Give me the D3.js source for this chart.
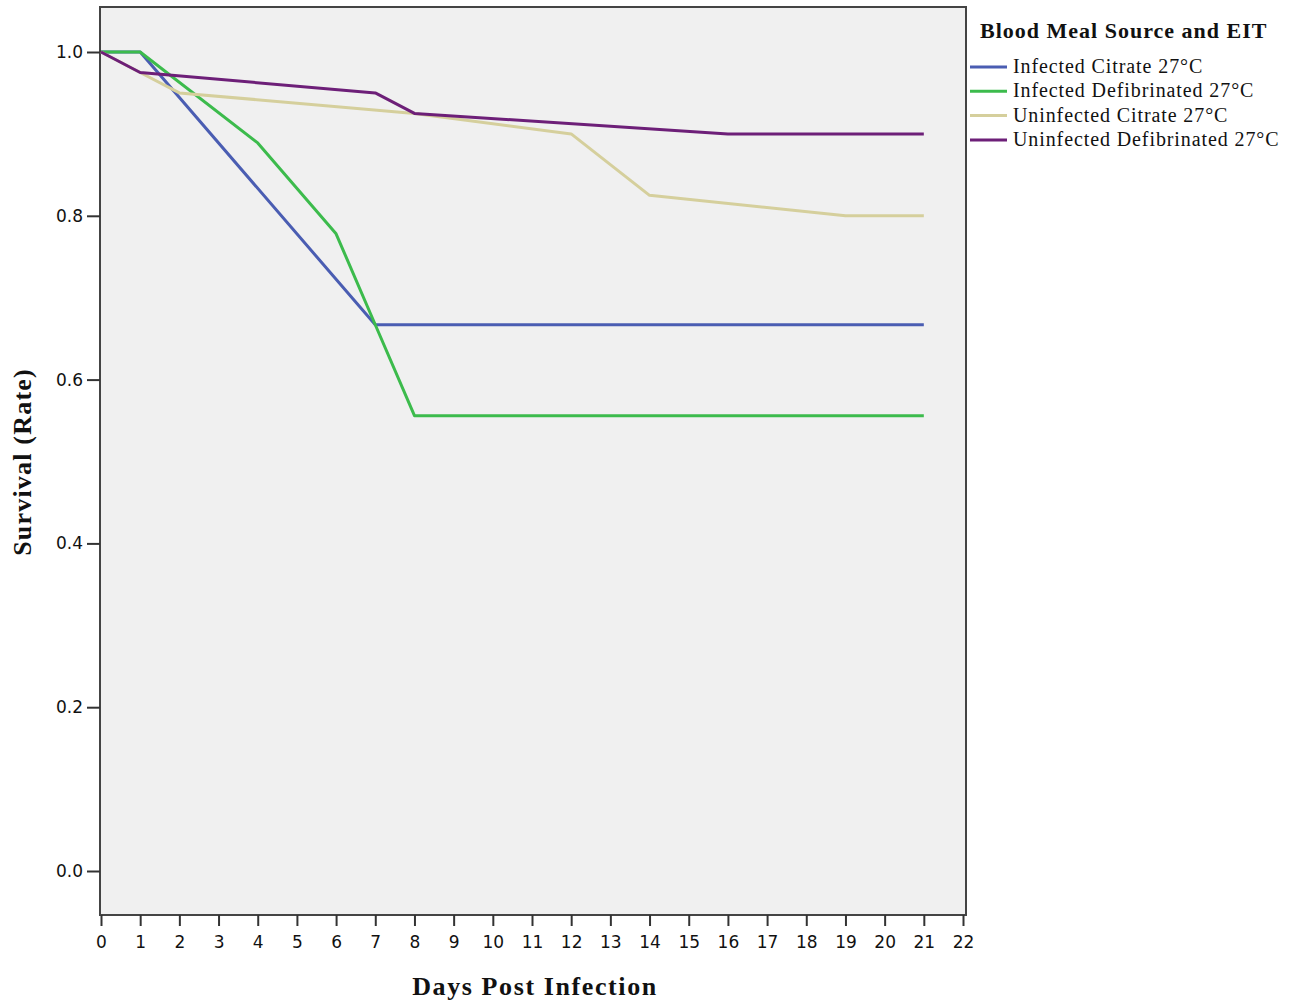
<!DOCTYPE html>
<html>
<head>
<meta charset="utf-8">
<script src="https://cdn.jsdelivr.net/npm/d3@7"></script>
<style>
  body { margin: 0; background: #fff; }
  svg text { fill: #111; }
</style>
</head>
<body>
<div id="chart"></div>
<script>
// Series data (days post infection, survival rate)
const seriesNames = [
  "Infected Citrate 27\u00B0C",
  "Infected Defibrinated 27\u00B0C",
  "Uninfected Citrate 27\u00B0C",
  "Uninfected Defibrinated 27\u00B0C"
];
const seriesColors = ["#4a5db2", "#3cbb4c", "#d5cf9c", "#6d1f78"];

const infectedCitrateDays = [0, 1, 7, 21];
const infectedCitrateRate = [1.0, 1.0, 0.667, 0.667];

const infectedDefibDays = [0, 1, 4, 6, 7, 8, 21];
const infectedDefibRate = [1.0, 1.0, 0.889, 0.778, 0.667, 0.556, 0.556];

const uninfectedCitrateDays = [0, 1, 2, 8, 12, 14, 19, 21];
const uninfectedCitrateRate = [1.0, 0.975, 0.95, 0.925, 0.9, 0.825, 0.8, 0.8];

const uninfectedDefibDays = [0, 1, 7, 8, 16, 21];
const uninfectedDefibRate = [1.0, 0.975, 0.95, 0.925, 0.9, 0.9];

const xTicks = d3.range(0, 23);
const yTicks = [0.0, 0.2, 0.4, 0.6, 0.8, 1.0];

const allSeries = [
  [infectedCitrateDays, infectedCitrateRate],
  [infectedDefibDays, infectedDefibRate],
  [uninfectedCitrateDays, uninfectedCitrateRate],
  [uninfectedDefibDays, uninfectedDefibRate]
].map(([days, rate], i) => ({
  name: seriesNames[i],
  color: seriesColors[i],
  points: days.map((d, j) => ({ day: d, rate: rate[j] }))
}));

const width = 1300, height = 1005;
const svg = d3.select("#chart").append("svg")
  .attr("width", width)
  .attr("height", height);

const serif = "'Liberation Serif', 'Times New Roman', serif";

// Plot frame
const frame = { left: 100, right: 966, top: 7, bottom: 915 };

const x = d3.scaleLinear().domain([0, 22]).range([101, 963]);
const y = d3.scaleLinear().domain([0, 1]).range([871, 52]);

svg.append("rect")
  .attr("x", frame.left)
  .attr("y", frame.top)
  .attr("width", frame.right - frame.left)
  .attr("height", frame.bottom - frame.top)
  .attr("fill", "#f0f0f0")
  .attr("stroke", "#444")
  .attr("stroke-width", 2);

// Y axis
const yAxis = svg.append("g")
  .attr("transform", `translate(${frame.left},0)`)
  .call(d3.axisLeft(y).tickValues(yTicks).tickFormat(d3.format(".1f")).tickSize(13).tickPadding(4));
yAxis.select(".domain").remove();
yAxis.selectAll("line").attr("stroke", "#333").attr("stroke-width", 2);
yAxis.selectAll("text")
  .style("font-family", "'DejaVu Sans', sans-serif")
  .style("font-size", "17px")
  .attr("fill", "#222");

// X axis
const xAxis = svg.append("g")
  .attr("transform", `translate(0,${frame.bottom})`)
  .call(d3.axisBottom(x).tickValues(xTicks).tickFormat(d3.format("d")).tickSize(11).tickPadding(10));
xAxis.select(".domain").remove();
xAxis.selectAll("line").attr("stroke", "#333").attr("stroke-width", 2);
xAxis.selectAll("text")
  .style("font-family", "'DejaVu Sans', sans-serif")
  .style("font-size", "17px")
  .attr("fill", "#222");

// Lines
const line = d3.line()
  .x(d => x(d.day))
  .y(d => y(d.rate));

svg.append("g")
  .selectAll("path")
  .data(allSeries)
  .join("path")
  .attr("d", d => line(d.points))
  .attr("fill", "none")
  .attr("stroke", d => d.color)
  .attr("stroke-width", 3)
  .attr("stroke-linejoin", "round");

// Axis titles
svg.append("text")
  .attr("transform", `translate(31,462) rotate(-90)`)
  .attr("text-anchor", "middle")
  .style("font-family", serif)
  .style("font-weight", "bold")
  .style("font-size", "26px")
  .style("letter-spacing", "1.2px")
  .text("Survival (Rate)");

svg.append("text")
  .attr("x", 535)
  .attr("y", 995)
  .attr("text-anchor", "middle")
  .style("font-family", serif)
  .style("font-weight", "bold")
  .style("font-size", "26px")
  .style("letter-spacing", "1.6px")
  .text("Days Post Infection");

// Legend
const legend = svg.append("g").attr("transform", "translate(970,0)");
legend.append("text")
  .attr("x", 10)
  .attr("y", 38)
  .style("font-family", serif)
  .style("font-weight", "bold")
  .style("font-size", "22px")
  .style("letter-spacing", "1px")
  .text("Blood Meal Source and EIT");

const items = legend.selectAll("g.item")
  .data(allSeries)
  .join("g")
  .attr("class", "item")
  .attr("transform", (d, i) => `translate(0,${67 + i * 24.3})`);
items.append("line")
  .attr("x1", 0).attr("x2", 37)
  .attr("stroke", d => d.color)
  .attr("stroke-width", 3);
items.append("text")
  .attr("x", 43)
  .attr("y", 6)
  .style("font-family", serif)
  .style("font-size", "20px")
  .style("letter-spacing", "0.9px")
  .text(d => d.name);
</script>
</body>
</html>
